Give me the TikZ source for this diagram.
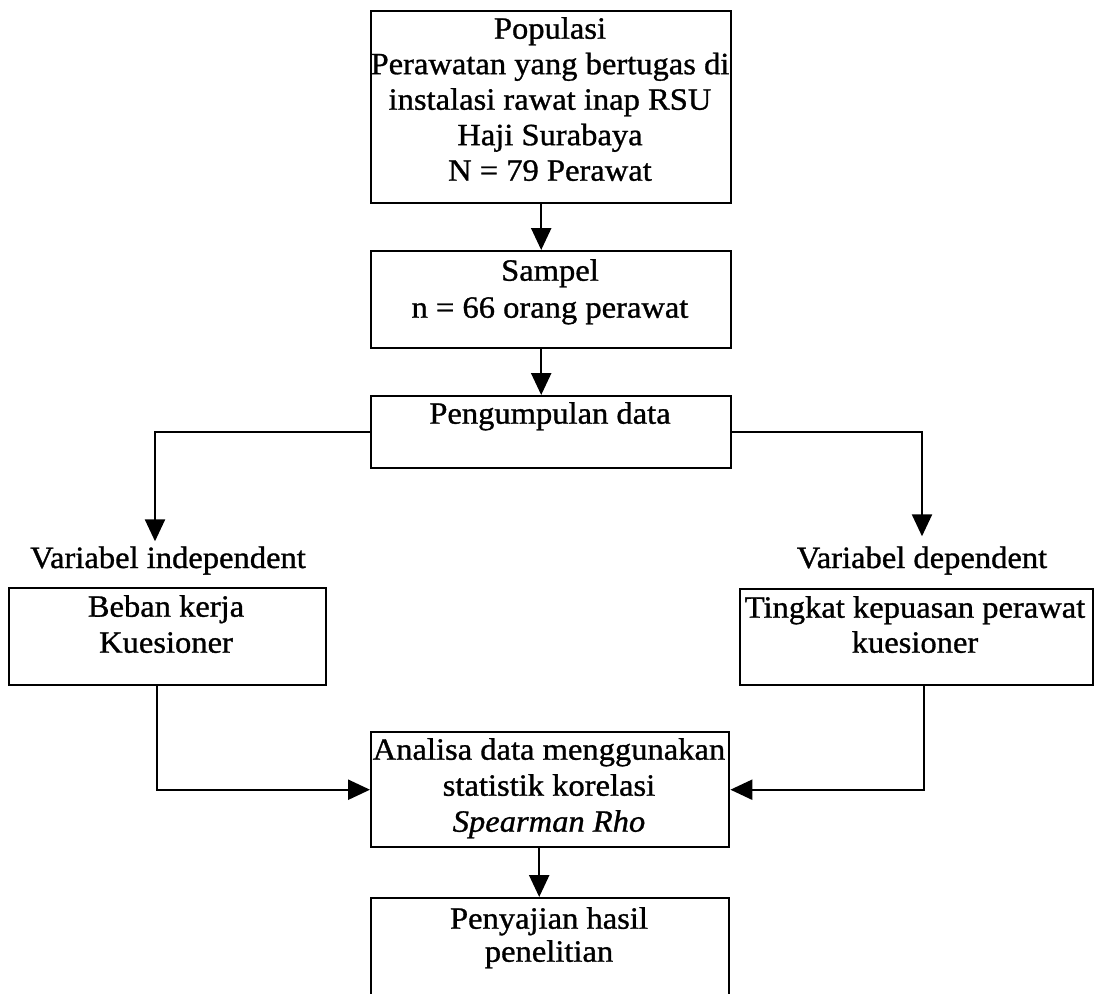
\documentclass[tikz,border=0pt]{standalone}
\usepackage{fontspec}
\setmainfont{Liberation Serif}[FakeStretch=1.05,FakeBold=1]
\usetikzlibrary{arrows.meta}
\begin{document}
\begin{tikzpicture}[x=1pt,y=-1pt,
  box/.style={draw,line width=2.4pt,inner sep=0pt,anchor=north west},
  txt/.style={inner sep=0pt,anchor=north,align=center},
  lbl/.style={inner sep=0pt,anchor=base,font=\fontsize{31}{33}\selectfont},
  arr/.style={line width=2.4pt,-{Triangle[length=22pt,width=20pt]}}]
\clip (0,0) rectangle (1100,993);
\fill[white] (0,0) rectangle (1100,993);
% boxes
\node[box,minimum width=360pt,minimum height=192pt] (pop) at (370,10) {};
\node[txt,font=\fontsize{31}{35.5}\selectfont] (popt) at (550,17) {Populasi\\Perawatan yang bertugas di\\instalasi rawat inap RSU\\Haji Surabaya\\N = 79 Perawat};
\node[box,minimum width=360pt,minimum height=97pt] (samp) at (370,250) {};
\node[txt,font=\fontsize{31}{37}\selectfont] (sampt) at (550,259) {Sampel\\n = 66 orang perawat};
\node[box,minimum width=360pt,minimum height=72pt] (peng) at (370,395) {};
\node[txt,font=\fontsize{31}{33}\selectfont] (pengt) at (550,402) {Pengumpulan data};
\node[lbl] (ind) at (168,568) {Variabel independent};
\node[lbl] (dep) at (922,568) {Variabel dependent};
\node[box,minimum width=317pt,minimum height=97pt] (beban) at (8,587) {};
\node[txt,font=\fontsize{31}{36}\selectfont] (bebant) at (166,595) {Beban kerja\\Kuesioner};
\node[box,minimum width=353pt,minimum height=96pt] (ting) at (739,588) {};
\node[txt,font=\fontsize{31}{35}\selectfont] (tingt) at (915,596) {Tingkat kepuasan perawat\\kuesioner};
\node[box,minimum width=358pt,minimum height=115pt] (ana) at (370,731) {};
\node[txt,font=\fontsize{31}{36}\selectfont] (anat) at (549,738) {Analisa data menggunakan\\statistik korelasi\\\textit{Spearman Rho}};
\node[box,minimum width=358pt,minimum height=200pt] (peny) at (370,897) {};
\node[txt,font=\fontsize{31}{33}\selectfont] (penyt) at (549,907) {Penyajian hasil\\penelitian};
% connectors
\draw[arr] ([xshift=-10pt]pop.south) -- ([xshift=-10pt]samp.north);
\draw[arr] ([xshift=-10pt]samp.south) -- ([xshift=-10pt]peng.north);
\draw[arr] (peng.west) -| ([xshift=-13pt,yshift=5pt]ind.north);
\draw[arr] (peng.east) -| ([yshift=10pt]dep.north);
\draw[arr] ([xshift=-11pt]beban.south) |- (ana.west);
\draw[arr] ([xshift=7pt]ting.south) |- (ana.east);
\draw[arr] ([xshift=-11pt]ana.south) -- ([xshift=-11pt]peny.north);
\end{tikzpicture}
\end{document}
